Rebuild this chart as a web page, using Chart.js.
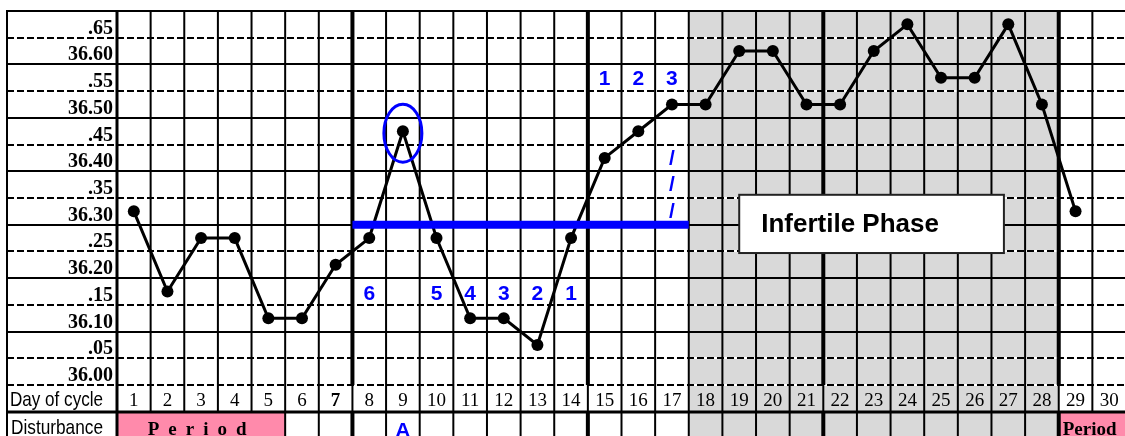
<!DOCTYPE html>
<html>
<head>
<meta charset="utf-8">
<script src="https://cdn.jsdelivr.net/npm/chart.js@4.4.1/dist/chart.umd.min.js"></script>
<style>
  html, body { margin: 0; padding: 0; background: #fff; overflow: hidden; }
  canvas { display: block; }
</style>
</head>
<body>
<canvas id="bbtChart" width="1132" height="436"></canvas>
<script>
// cycle days and waking temperatures
const days = [1, 2, 3, 4, 5, 6, 7, 8, 9, 10, 11, 12, 13, 14, 15, 16, 17, 18, 19, 20, 21, 22, 23, 24, 25, 26, 27, 28, 29, 30];
const temps = [36.30, 36.15, 36.25, 36.25, 36.10, 36.10, 36.20, 36.25, 36.45, 36.25, 36.10, 36.10, 36.05, 36.25,
               36.40, 36.45, 36.50, 36.50, 36.60, 36.60, 36.50, 36.50, 36.60, 36.65, 36.55, 36.55, 36.65, 36.50, 36.30, null];

// left column tick rows
const tickValues = [36.65, 36.60, 36.55, 36.50, 36.45, 36.40, 36.35, 36.30, 36.25, 36.20, 36.15, 36.10, 36.05, 36.00];
const tickLabels = [".65", "36.60", ".55", "36.50", ".45", "36.40", ".35", "36.30", ".25", "36.20", ".15", "36.10", ".05", "36.00"];

// annotations
const coverLevel = 36.275;
const coverDays = [7.5, 17.5];
const peakDay = 9;
const highCountDays = [15, 16, 17];
const highCountLabels = ["1", "2", "3"];
const highCountLevel = 36.55;
const lowCountDays = [8, 10, 11, 12, 13, 14];
const lowCountLabels = ["6", "5", "4", "3", "2", "1"];
const lowCountLevel = 36.15;
const slashDay = 17;
const slashLevels = [36.40, 36.35, 36.30];
const infertileDays = [18, 28];
const infertileLabel = "Infertile Phase";
const periodDays = [[1, 5], [29, 30]];
const periodLabels = ["Period", "Period"];
const boldDays = [7];
const weekLines = [7.5, 14.5, 21.5, 28.5];
const disturbanceDays = [9];
const disturbanceLabels = ["A"];

const BLUE = "#0000ff";
const GREY = "#d9d9d9";
const PINK = "#ff8aab";
const SERIF = '"Liberation Serif", "Times New Roman", serif';
const SANS = '"Liberation Sans", Arial, sans-serif';

const sheetPlugin = {
    id: "sheet",
    beforeDatasetsDraw(chart) {
        const { ctx, chartArea: a, scales: { x, y } } = chart;
        const W = chart.width, H = chart.height;
        const left = 7, top = a.top, dayTop = a.bottom, dayBot = 412;
        ctx.save();

        // shaded infertile columns
        const g0 = x.getPixelForValue(infertileDays[0] - 0.5);
        const g1 = x.getPixelForValue(infertileDays[1] + 0.5);
        ctx.fillStyle = GREY;
        ctx.fillRect(g0, top, g1 - g0, H - top);

        // period cells
        ctx.fillStyle = PINK;
        periodDays.forEach(([d0, d1]) => {
            const p0 = x.getPixelForValue(d0 - 0.5);
            const p1 = Math.min(x.getPixelForValue(d1 + 0.5), W);
            ctx.fillRect(p0, dayBot + 1, p1 - p0, H - dayBot);
        });

        // horizontal rules
        const hLine = (py, width, dash) => {
            ctx.lineWidth = width;
            if (dash) {
                ctx.strokeStyle = "#fff";
                ctx.setLineDash([]);
                ctx.beginPath(); ctx.moveTo(left, py); ctx.lineTo(W, py); ctx.stroke();
                ctx.setLineDash([7, 3]);
            } else {
                ctx.setLineDash([]);
            }
            ctx.strokeStyle = "#000";
            ctx.beginPath(); ctx.moveTo(left, py); ctx.lineTo(W, py); ctx.stroke();
            ctx.setLineDash([]);
        };
        hLine(top, 2, false);
        tickValues.forEach((t, i) => {
            const py = Math.round(y.getPixelForValue(t - 0.025));
            const dashed = tickLabels[i].startsWith(".") || i === tickValues.length - 1;
            hLine(py, 2, dashed);
        });
        hLine(dayBot, 3, false);

        // vertical rules
        ctx.strokeStyle = "#000";
        const vSeg = (px, y0, y1, w) => {
            ctx.lineWidth = w;
            ctx.beginPath(); ctx.moveTo(px, y0); ctx.lineTo(px, y1); ctx.stroke();
        };
        vSeg(left, top - 1, H, 2);
        for (let k = 0; k <= days.length; k++) {
            const b = 0.5 + k;
            const px = x.getPixelForValue(b);
            const w = k === 0 ? 3 : (weekLines.includes(b) ? 4 : 2);
            vSeg(px, top - 1, dayTop, w);
            vSeg(px, dayTop, dayBot, k === 0 ? 3 : 2);
            const inside = periodDays.some(([d0, d1]) => b > d0 - 0.5 && b < d1 + 0.5);
            if (!inside) vSeg(px, dayBot, H, w);
        }

        // tick labels
        ctx.fillStyle = "#000";
        ctx.font = "bold 20px " + SERIF;
        ctx.textAlign = "right";
        ctx.textBaseline = "alphabetic";
        tickValues.forEach((t, i) => {
            ctx.fillText(tickLabels[i], 113, y.getPixelForValue(t - 0.025) - 4);
        });

        // day row
        ctx.textAlign = "left";
        ctx.font = "21px " + SANS;
        ctx.fillText("Day of cycle", 10, 406, 93);
        ctx.fillText("Disturbance", 11, 434, 92);
        ctx.textAlign = "center";
        days.forEach(d => {
            ctx.font = (boldDays.includes(d) ? "bold " : "") + "19px " + SERIF;
            ctx.fillText(String(d), x.getPixelForValue(d), 406);
        });

        // period labels
        ctx.font = "bold 19px " + SERIF;
        const spaced = (text, cx, by, gap) => {
            const ws = [...text].map(c => ctx.measureText(c).width);
            const total = ws.reduce((s, v) => s + v, 0) + gap * (ws.length - 1);
            let px = cx - total / 2;
            ctx.textAlign = "left";
            [...text].forEach((c, i) => { ctx.fillText(c, px, by); px += ws[i] + gap; });
        };
        spaced(periodLabels[0], (x.getPixelForValue(periodDays[0][0] - 0.5) + x.getPixelForValue(periodDays[0][1] + 0.5)) / 2 - 4, 435, 9);
        ctx.textAlign = "left";
        ctx.fillText(periodLabels[1], x.getPixelForValue(periodDays[1][0] - 0.5) + 4, 435);

        // disturbance notes
        ctx.fillStyle = BLUE;
        ctx.font = "bold 21px " + SANS;
        ctx.textAlign = "center";
        disturbanceDays.forEach((d, i) => ctx.fillText(disturbanceLabels[i], x.getPixelForValue(d), 437));
        ctx.restore();
    },
    afterDatasetsDraw(chart) {
        const { ctx, scales: { x, y } } = chart;
        ctx.save();

        // ring round the peak reading
        ctx.strokeStyle = BLUE;
        ctx.lineWidth = 3;
        ctx.beginPath();
        ctx.ellipse(x.getPixelForValue(peakDay), y.getPixelForValue(temps[peakDay - 1]) + 2, 19, 29, 0, 0, Math.PI * 2);
        ctx.stroke();

        // counting digits
        ctx.fillStyle = BLUE;
        ctx.font = "bold 21px " + SANS;
        ctx.textAlign = "center";
        ctx.textBaseline = "middle";
        highCountDays.forEach((d, i) => ctx.fillText(highCountLabels[i], x.getPixelForValue(d), y.getPixelForValue(highCountLevel) + 1));
        lowCountDays.forEach((d, i) => ctx.fillText(lowCountLabels[i], x.getPixelForValue(d), y.getPixelForValue(lowCountLevel) + 3));
        ctx.font = "bold 21px " + SANS;
        slashLevels.forEach(v => ctx.fillText("/", x.getPixelForValue(slashDay), y.getPixelForValue(v) + 1));

        // infertile phase box
        const bx0 = x.getPixelForValue(19.0), bx1 = x.getPixelForValue(26.87);
        const by0 = y.getPixelForValue(36.331), by1 = y.getPixelForValue(36.222);
        ctx.fillStyle = "#fff";
        ctx.fillRect(bx0, by0, bx1 - bx0, by1 - by0);
        ctx.strokeStyle = "#222";
        ctx.lineWidth = 2;
        ctx.strokeRect(bx0, by0, bx1 - bx0, by1 - by0);
        ctx.fillStyle = "#000";
        ctx.font = "bold 26px " + SANS;
        ctx.textAlign = "left";
        ctx.textBaseline = "alphabetic";
        ctx.fillText(infertileLabel, bx0 + 22, by0 + 37);
        ctx.restore();
    }
};

new Chart(document.getElementById("bbtChart").getContext("2d"), {
    type: "line",
    data: {
        datasets: [
            {
                label: "Cover line",
                data: coverDays.map(d => ({ x: d, y: coverLevel })),
                borderColor: BLUE,
                borderWidth: 8,
                borderCapStyle: "butt",
                pointRadius: 0,
                order: 0
            },
            {
                label: "Temperature",
                data: days.map((d, i) => ({ x: d, y: temps[i] })),
                borderColor: "#000",
                backgroundColor: "#000",
                borderWidth: 3,
                pointRadius: 6,
                pointBackgroundColor: "#000",
                pointBorderWidth: 0,
                tension: 0,
                order: 1
            }
        ]
    },
    options: {
        responsive: false,
        animation: false,
        events: [],
        layout: { padding: { left: 117, top: 11, right: 0, bottom: 51 } },
        plugins: { legend: { display: false }, tooltip: { enabled: false } },
        scales: {
            x: { type: "linear", min: 0.5, max: 30.5, display: false },
            y: { type: "linear", min: 35.975, max: 36.675, display: false }
        }
    },
    plugins: [sheetPlugin]
});
</script>
</body>
</html>
